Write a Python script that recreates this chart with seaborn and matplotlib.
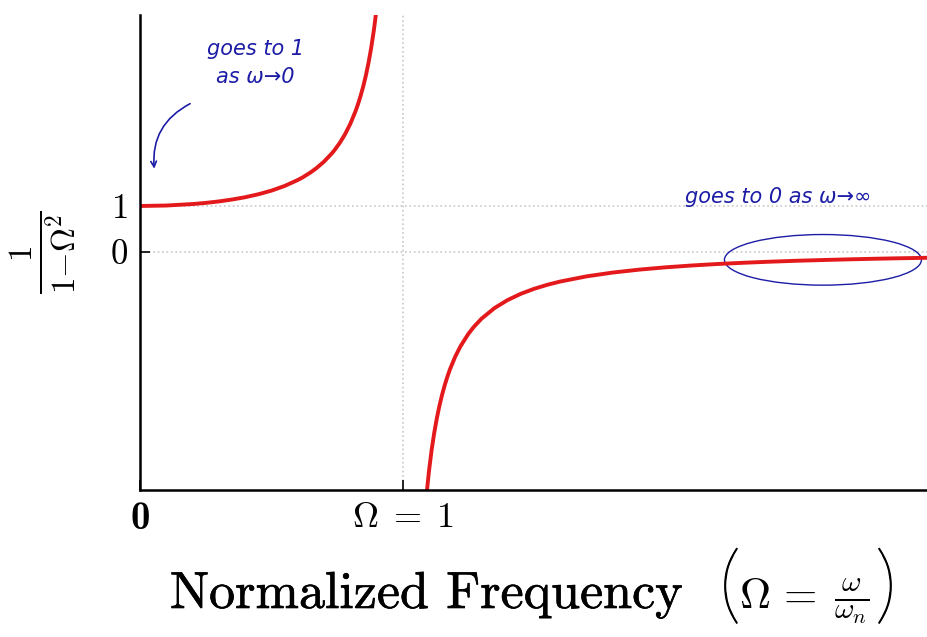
import matplotlib
matplotlib.use("Agg")
import matplotlib.pyplot as plt
import matplotlib.patheffects as pe
from matplotlib.patches import Ellipse
import seaborn as sns
import pandas as pd

# Response curve 1/(1 - Omega^2)
omega_low = [0.0, 0.1, 0.2, 0.25, 0.3, 0.35, 0.4, 0.45, 0.5, 0.55, 0.6, 0.62, 0.65,
             0.67, 0.7, 0.73, 0.74, 0.76, 0.78, 0.8, 0.82, 0.83, 0.84, 0.85, 0.86,
             0.87, 0.88, 0.89, 0.895, 0.9, 0.905, 0.91, 0.92]
resp_low = [1.0, 1.010, 1.042, 1.067, 1.099, 1.140, 1.190, 1.254, 1.333, 1.434, 1.563,
            1.624, 1.732, 1.815, 1.961, 2.141, 2.210, 2.367, 2.554, 2.778, 3.053, 3.214,
            3.397, 3.604, 3.840, 4.114, 4.433, 4.810, 5.026, 5.263, 5.526, 5.817, 6.510]

omega_high = [1.08, 1.09, 1.1, 1.11, 1.12, 1.13, 1.14, 1.15, 1.16, 1.17, 1.18, 1.2,
              1.22, 1.25, 1.27, 1.3, 1.35, 1.4, 1.45, 1.5, 1.55, 1.6, 1.7, 1.8, 1.9,
              2.0, 2.1, 2.2, 2.3, 2.4, 2.5, 2.6, 2.7, 2.8, 2.9, 3.0]
resp_high = [-6.010, -5.316, -4.762, -4.308, -3.931, -3.611, -3.338, -3.101, -2.894,
             -2.711, -2.548, -2.273, -2.048, -1.778, -1.632, -1.449, -1.216, -1.042,
             -0.907, -0.8, -0.713, -0.641, -0.529, -0.446, -0.383, -0.333, -0.293,
             -0.260, -0.233, -0.210, -0.190, -0.174, -0.159, -0.146, -0.135, -0.125]

x_ticks = [0, 1]
x_tick_labels = ["0", r"$\Omega\;=\;1$"]
y_ticks = [0, 1]
y_tick_labels = [r"$0$", r"$1$"]

df = pd.concat([
    pd.DataFrame({"omega": omega_low, "resp": resp_low, "branch": "low"}),
    pd.DataFrame({"omega": omega_high, "resp": resp_high, "branch": "high"}),
])

sns.set_style("ticks")
plt.rcParams["mathtext.fontset"] = "cm"
plt.rcParams["font.family"] = ["cmr10", "DejaVu Sans"]
plt.rcParams["axes.unicode_minus"] = False
plt.rcParams["text.color"] = "black"
plt.rcParams["axes.labelcolor"] = "black"

fig = plt.figure(figsize=(9.28, 6.37), dpi=100)
ax = fig.add_axes([0.1509, 0.2308, 0.8491, 0.7457])

# dotted guide lines
for gx in [1]:
    ax.axvline(gx, color="#c8c8c8", ls=":", lw=1.2, zorder=0)
for gy in [0, 1]:
    ax.axhline(gy, color="#c8c8c8", ls=":", lw=1.2, zorder=0)

sns.lineplot(data=df, x="omega", y="resp", units="branch", estimator=None,
             sort=False, color="#e3191c", lw=2.8, ax=ax)

ax.set_xlim(0, 3)
ax.set_ylim(-5.17, 5.15)
ax.set_xticks(x_ticks)
ax.set_xticklabels(x_tick_labels, fontsize=26)
ax.get_xticklabels()[0].set_family("cmb10")
ax.get_xticklabels()[0].set_fontsize(28)
ax.set_yticks(y_ticks)
ax.set_yticklabels(y_tick_labels, fontsize=25)
ax.tick_params(direction="in", length=7, width=1.2, colors="black", pad=9)
ax.set_xlabel("")

for side in ["top", "right"]:
    ax.spines[side].set_visible(False)
for side in ["left", "bottom"]:
    ax.spines[side].set_linewidth(1.8)
    ax.spines[side].set_color("black")

ax.set_ylabel(r"$\frac{1}{1{-}\Omega^2}$", fontsize=34, labelpad=22)

# x label assembled from pieces so the parentheses can be tall
W, H = 928, 637
fig.text(170 / W, 1 - 608 / H, "Normalized Frequency", fontsize=37.5,
         ha="left", va="baseline",
         path_effects=[pe.withStroke(linewidth=0.45, foreground="black")])
paren = dict(family="Lato", fontweight="light", fontsize=62, ha="center",
             va="center", path_effects=[pe.withStroke(linewidth=0.8, foreground="black")])
fig.text(730 / W, 1 - 590 / H, "(", **paren)
fig.text(739 / W, 1 - 608 / H, r"$\Omega\,=$", fontsize=31, ha="left", va="baseline")
fig.text(834 / W, 1 - 608 / H, r"$\frac{\omega}{\omega_n}$", fontsize=31,
         ha="left", va="baseline")
fig.text(886 / W, 1 - 590 / H, ")", **paren)

# handwritten-style notes
ink = "#1c1ca6"
ax.text(0.44, 4.1, "goes to 1\nas ω→0", color=ink, fontsize=15, style="italic",
        family="DejaVu Sans", ha="center", va="center", linespacing=1.5)
ax.annotate("", xy=(0.055, 1.75), xytext=(0.2, 3.25),
            arrowprops=dict(arrowstyle="->", color=ink, lw=1.2,
                            connectionstyle="arc3,rad=0.35"))
ax.text(2.43, 1.2, "goes to 0 as ω→∞", color=ink, fontsize=15, style="italic",
        family="DejaVu Sans", ha="center", va="center")
ax.add_patch(Ellipse((2.6, -0.17), 0.75, 1.1, fill=False, ec=ink, lw=1.0))

fig.savefig("out.png", dpi=100)
